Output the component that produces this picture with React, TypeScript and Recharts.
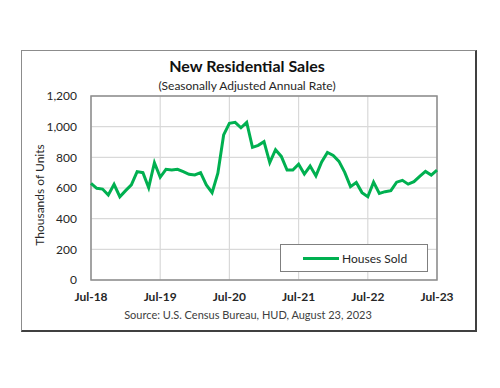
import React from "react";
import { LineChart, Line, XAxis, YAxis, CartesianGrid, ReferenceArea } from "recharts";

const months: string[] = [
  "Jul-18","Aug-18","Sep-18","Oct-18","Nov-18","Dec-18","Jan-19","Feb-19","Mar-19","Apr-19","May-19","Jun-19",
  "Jul-19","Aug-19","Sep-19","Oct-19","Nov-19","Dec-19","Jan-20","Feb-20","Mar-20","Apr-20","May-20","Jun-20",
  "Jul-20","Aug-20","Sep-20","Oct-20","Nov-20","Dec-20","Jan-21","Feb-21","Mar-21","Apr-21","May-21","Jun-21",
  "Jul-21","Aug-21","Sep-21","Oct-21","Nov-21","Dec-21","Jan-22","Feb-22","Mar-22","Apr-22","May-22","Jun-22",
  "Jul-22","Aug-22","Sep-22","Oct-22","Nov-22","Dec-22","Jan-23","Feb-23","Mar-23","Apr-23","May-23","Jun-23",
  "Jul-23",
];

const housesSold: number[] = [
  630, 598, 593, 554, 624, 543, 583, 620, 707, 700, 602, 765,
  670, 722, 717, 722, 707, 689, 685, 700, 620, 570, 696, 946,
  1022, 1028, 993, 1028, 865, 878, 902, 766, 850, 806, 717, 717,
  755, 691, 743, 679, 770, 832, 812, 774, 702, 609, 636, 570,
  543, 638, 565, 576, 583, 638, 650, 625, 641, 676, 708, 684,
  717,
];

const xTickIndex: number[] = [0, 12, 24, 36, 48, 60];
const yTicks: number[] = [0, 200, 400, 600, 800, 1000, 1200];

const title = "New Residential Sales";
const subtitle = "(Seasonally Adjusted Annual Rate)";
const source = "Source:  U.S. Census Bureau, HUD, August 23, 2023";
const yLabel = "Thousands of Units";
const seriesName = "Houses Sold";

const data = months.map((m, i) => ({ i, month: m, sold: housesSold[i] }));

const FONT = "Lato, 'Open Sans', sans-serif";
const GREEN = "#00B050";
const TEXT = "#262626";

export default function App() {
  return (
    <div style={{ position: "fixed", left: 0, top: 0, width: 500, height: 388, background: "#fff", fontFamily: FONT }}>
      <div
        style={{
          position: "absolute",
          left: 21,
          top: 50,
          width: 453,
          height: 279,
          borderTop: "1px solid #8c8c8c",
          borderLeft: "1px solid #8c8c8c",
          borderRight: "2px solid #404040",
          borderBottom: "2px solid #404040",
        }}
      />
      <div style={{ position: "absolute", left: 0, width: 494, top: 56, textAlign: "center", fontSize: 16, fontWeight: 700, color: "#111", lineHeight: "20px" }}>
        {title}
      </div>
      <div style={{ position: "absolute", left: 0, width: 494, top: 78, textAlign: "center", fontSize: 12, color: TEXT, lineHeight: "16px" }}>
        {subtitle}
      </div>
      <div style={{ position: "absolute", left: 0, width: 496, top: 308, textAlign: "center", fontSize: 11, color: "#404040", lineHeight: "14px" }}>
        {source}
      </div>
      <div
        style={{
          position: "absolute",
          left: 39,
          top: 195,
          transform: "translate(-50%, -50%) rotate(-90deg)",
          fontSize: 12,
          color: TEXT,
          whiteSpace: "nowrap",
        }}
      >
        {yLabel}
      </div>
      <div style={{ position: "absolute", left: 0, top: 0 }}>
        <LineChart width={500} height={388} data={data} margin={{ top: 96, right: 63, bottom: 78, left: 41 }}>
          <CartesianGrid stroke="#d9d9d9" strokeWidth={1.2} />
          <XAxis
            dataKey="i"
            type="number"
            domain={[0, 60]}
            ticks={xTickIndex}
            tickFormatter={(v: number) => months[v]}
            axisLine={false}
            tickLine={false}
            tickSize={0}
            tickMargin={12}
            height={30}
            tick={{ fontSize: 12, fill: TEXT, fontFamily: FONT, fontWeight: 700 }}
          />
          <YAxis
            domain={[0, 1200]}
            ticks={yTicks}
            tickFormatter={(v: number) => v.toLocaleString("en-US")}
            axisLine={false}
            tickLine={false}
            tickSize={0}
            tickMargin={14}
            width={50}
            tick={{ fontSize: 12, fill: TEXT, fontFamily: FONT }}
          />
          <ReferenceArea x1={0} x2={60} y1={0} y2={1200} fill="none" stroke="#8c8c8c" strokeWidth={1.5} ifOverflow="visible" />
          <Line
            type="linear"
            dataKey="sold"
            name={seriesName}
            stroke={GREEN}
            strokeWidth={3}
            dot={false}
            isAnimationActive={false}
          />
        </LineChart>
      </div>
      <div
        style={{
          position: "absolute",
          left: 280,
          top: 244,
          width: 146,
          height: 26,
          border: "1px solid #7f7f7f",
          background: "#fff",
          display: "flex",
          alignItems: "center",
          fontSize: 12,
          color: TEXT,
        }}
      >
        <div style={{ marginLeft: 22, width: 36, height: 3, background: GREEN }} />
        <span style={{ marginLeft: 3 }}>{seriesName}</span>
      </div>
    </div>
  );
}
